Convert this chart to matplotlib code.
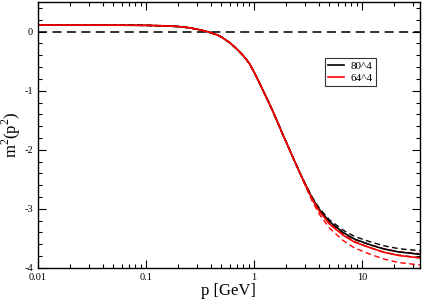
import numpy as np
import matplotlib
matplotlib.use('Agg')
import matplotlib.pyplot as plt
from matplotlib.ticker import FixedLocator, MultipleLocator, LogLocator, NullFormatter

plt.rcParams['font.family'] = ['Liberation Serif', 'DejaVu Serif']
plt.rcParams['mathtext.fontset'] = 'custom'
plt.rcParams['mathtext.rm'] = 'Liberation Serif'

# momentum grid (GeV)
p = [0.01, 0.02, 0.05, 0.1, 0.15, 0.2, 0.25, 0.3, 0.37, 0.45, 0.5, 0.6, 0.7,
     0.8, 0.91, 1.0, 1.1, 1.21, 1.35, 1.5, 1.7, 1.86, 2.05, 2.3, 2.65,
     3.06, 3.5, 4.07, 5.04, 6.7, 8.5, 12.0, 16.0, 22.0, 34.5]

# common part (all curves coincide below ~3 GeV)
m2_head = [0.113, 0.112, 0.110, 0.106, 0.098, 0.086, 0.066, 0.040, 0.0, -0.05,
           -0.09, -0.19, -0.30, -0.41, -0.54, -0.68, -0.83, -0.99, -1.17, -1.35,
           -1.58, -1.75, -1.92, -2.13, -2.38]

# 80^4 lattice: central value and error band (p >= 3 GeV)
m2_80 = m2_head + [-2.62, -2.83, -3.02, -3.22, -3.40, -3.51, -3.61, -3.68, -3.73, -3.77]
m2_80_up = m2_head + [-2.61, -2.815, -3.00, -3.19, -3.36, -3.465, -3.56, -3.625, -3.675, -3.71]
m2_80_lo = m2_head + [-2.63, -2.845, -3.04, -3.25, -3.44, -3.555, -3.66, -3.735, -3.785, -3.83]

# 64^4 lattice: central value and error band
m2_64 = m2_head + [-2.63, -2.85, -3.05, -3.26, -3.445, -3.56, -3.66, -3.735, -3.79, -3.83]
m2_64_up = m2_head + [-2.625, -2.84, -3.035, -3.235, -3.41, -3.52, -3.61, -3.675, -3.725, -3.76]
m2_64_lo = m2_head + [-2.65, -2.885, -3.10, -3.33, -3.535, -3.66, -3.77, -3.85, -3.91, -3.95]

xticks = [0.01, 0.1, 1, 10]
xticklabels = ['0.01', '0.1', '1', '10']
yticks = [0, -1, -2, -3, -4]
yticklabels = ['0', '-1', '-2', '-3', '-4']

fig = plt.figure(figsize=(4.22, 3.00), dpi=100)
ax = fig.add_axes([0.090, 0.107, 0.905, 0.886])

ax.axhline(0, color='#222222', ls=(0, (5, 3)), lw=1.3, zorder=1)

dash = (0, (4, 2.5))
ax.plot(p, m2_80_up, color='black', ls=dash, lw=1.0)
ax.plot(p, m2_80_lo, color='black', ls=dash, lw=1.0)
ax.plot(p, m2_64_up, color='red', ls=dash, lw=1.0)
ax.plot(p, m2_64_lo, color='red', ls=dash, lw=1.0)
ax.plot(p, m2_80, color='black', lw=1.2, label='80^4')
ax.plot(p, m2_64, color='red', lw=1.2, label='64^4')

ax.set_xscale('log')
ax.set_xlim(0.01, 34.5)
ax.set_ylim(-4, 0.5)

ax.xaxis.set_major_locator(FixedLocator(xticks))
ax.set_xticklabels(xticklabels)
ax.xaxis.set_minor_locator(LogLocator(base=10, subs=np.arange(2, 10)))
ax.xaxis.set_minor_formatter(NullFormatter())
ax.yaxis.set_major_locator(FixedLocator(yticks))
ax.set_yticklabels(yticklabels)
ax.yaxis.set_minor_locator(MultipleLocator(0.2))

ax.tick_params(which='both', direction='in', top=True, right=True,
               labelsize=7.5, width=0.8)
ax.tick_params(which='major', length=6)
ax.tick_params(which='minor', length=3)
for s in ax.spines.values():
    s.set_linewidth(1.0)

ax.set_xlabel('p [GeV]', fontsize=12, labelpad=1)
ax.set_ylabel(r'm$^2$(p$^2$)', fontsize=12, labelpad=1)

leg = ax.legend(loc='upper left', bbox_to_anchor=(0.751, 0.789), fontsize=8,
                frameon=True, fancybox=False, handlelength=1.45,
                handletextpad=0.6, borderpad=0.3, labelspacing=0.15,
                borderaxespad=0)
leg.get_frame().set_edgecolor('black')
leg.get_frame().set_linewidth(0.8)

fig.savefig('out.png', dpi=100)
